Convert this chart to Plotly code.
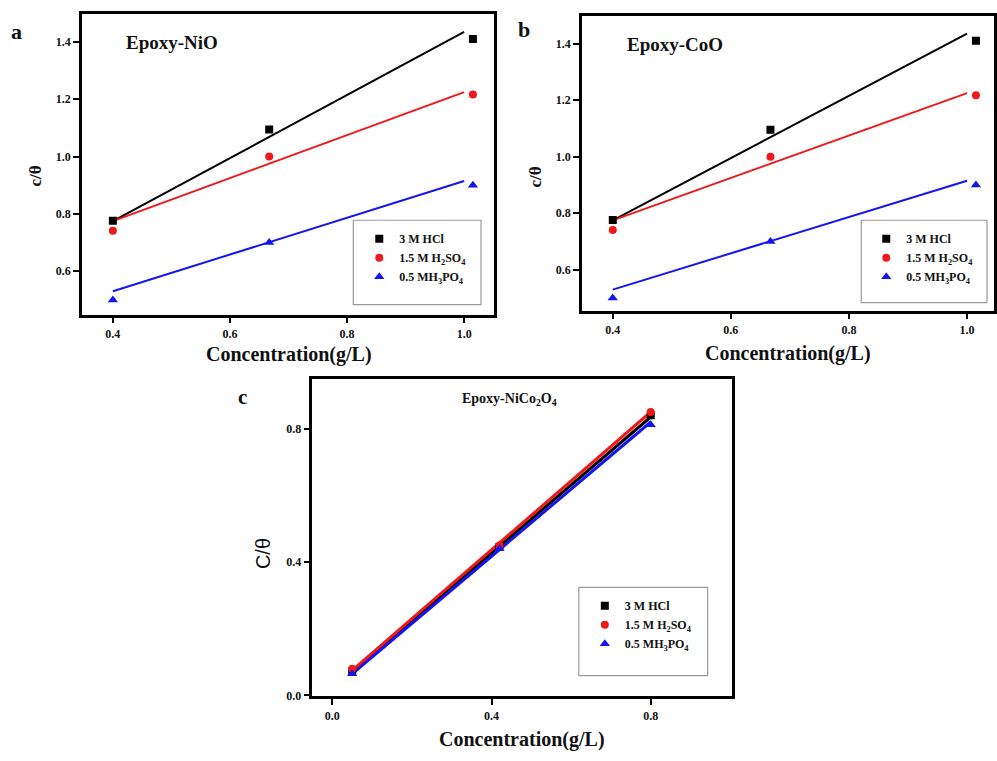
import plotly.graph_objects as go

# ---- data -------------------------------------------------------------
series_names = ["3 M HCl", "1.5 M H<sub>2</sub>SO<sub>4</sub>", "0.5 MH<sub>3</sub>PO<sub>4</sub>"]
series_colors = ["#000000", "#f01818", "#1414f0"]
series_symbols = ["square", "circle", "triangle-up"]

# Epoxy-NiO (panel a) and Epoxy-CoO (panel b)
conc_ab = [0.40, 0.667, 1.015]
hcl_ab = [0.776, 1.095, 1.41]
h2so4_ab = [0.741, 1.0, 1.217]
h3po4_ab = [0.50, 0.70, 0.90]

# fitted lines for panels a and b (end points)
fit_x_ab = [0.40, 1.00]
fit_hcl_ab = [0.775, 1.435]
fit_h2so4_ab = [0.775, 1.225]
fit_h3po4_ab = [0.53, 0.915]

# Epoxy-NiCo2O4 (panel c)
conc_c = [0.05, 0.42, 0.80]
hcl_c = [0.071, 0.445, 0.84]
h2so4_c = [0.08, 0.45, 0.85]
h3po4_c = [0.065, 0.44, 0.812]

fit_x_c = [0.05, 0.80]
fit_hcl_c = [0.07, 0.835]
fit_h2so4_c = [0.075, 0.85]
fit_h3po4_c = [0.065, 0.82]

W, H = 997, 761
SERIF = "Liberation Serif, Times New Roman, serif"


def px(x):
    return x / W


def py(y):
    return 1 - y / H


fig = go.Figure()

panels = [
    # (xaxis, yaxis, legend, x, points, fits, fit_x, line width)
    ("x", "y", "legend", conc_ab, [hcl_ab, h2so4_ab, h3po4_ab],
     [fit_hcl_ab, fit_h2so4_ab, fit_h3po4_ab], fit_x_ab, 2),
    ("x2", "y2", "legend2", conc_ab, [hcl_ab, h2so4_ab, h3po4_ab],
     [fit_hcl_ab, fit_h2so4_ab, fit_h3po4_ab], fit_x_ab, 2),
    ("x3", "y3", "legend3", conc_c, [hcl_c, h2so4_c, h3po4_c],
     [fit_hcl_c, fit_h2so4_c, fit_h3po4_c], fit_x_c, 3),
]

for xa, ya, lg, xs, pts, fits, fx, lw in panels:
    order = [0, 1, 2] if xa != "x3" else [0, 2, 1]
    for i in order:
        fig.add_trace(go.Scatter(
            x=fx, y=fits[i], mode="lines", xaxis=xa, yaxis=ya,
            line=dict(color=series_colors[i], width=lw),
            showlegend=False, hoverinfo="skip"))
    for i in range(3):
        fig.add_trace(go.Scatter(
            x=xs, y=pts[i], mode="markers", xaxis=xa, yaxis=ya,
            name=series_names[i], legend=lg,
            marker=dict(symbol=series_symbols[i], color=series_colors[i],
                        size=8 if i < 2 else 9, line=dict(width=0))))

tickfont = dict(family=SERIF, size=12, color="#111111", weight="bold")
axis_common = dict(showline=True, linecolor="black", linewidth=2.5, mirror=True,
                   ticks="outside", ticklen=6, tickwidth=2, tickcolor="black",
                   showgrid=False, zeroline=False, tickfont=tickfont)

fig.update_layout(
    width=W, height=H, margin=dict(l=0, r=0, t=0, b=0),
    paper_bgcolor="white", plot_bgcolor="white",
    xaxis=dict(domain=[px(82), px(495)], range=[0.347, 1.051], anchor="y",
               tickvals=[0.4, 0.6, 0.8, 1.0], tickformat=".1f", **axis_common),
    yaxis=dict(domain=[py(317), py(14)], range=[0.449, 1.498], anchor="x",
               tickvals=[0.6, 0.8, 1.0, 1.2, 1.4], tickformat=".1f", **axis_common),
    xaxis2=dict(domain=[px(583), px(996)], range=[0.3476, 1.0456], anchor="y2",
                tickvals=[0.4, 0.6, 0.8, 1.0], tickformat=".1f", **axis_common),
    yaxis2=dict(domain=[py(313), py(16)], range=[0.456, 1.498], anchor="x2",
                tickvals=[0.6, 0.8, 1.0, 1.2, 1.4], tickformat=".1f", **axis_common),
    xaxis3=dict(domain=[px(313), px(733)], range=[-0.05, 1.003], anchor="y3",
                tickvals=[0.0, 0.4, 0.8], tickformat=".1f", **axis_common),
    yaxis3=dict(domain=[py(702), py(382)], range=[-0.003, 0.949], anchor="x3",
                tickvals=[0.0, 0.4, 0.8], tickformat=".1f", **axis_common),
)

legend_font = dict(family=SERIF, size=12, color="#111111", weight="bold")
legend_common = dict(bgcolor="rgba(0,0,0,0)", borderwidth=0, font=legend_font,
                     xanchor="left", yanchor="top", tracegroupgap=0)
fig.update_layout(
    legend=dict(x=px(360), y=py(226), **legend_common),
    legend2=dict(x=px(868), y=py(226), **legend_common),
    legend3=dict(x=px(586), y=py(596), **legend_common),
)

# legend frames
for x0, y0, x1, y1 in [(354, 222, 482, 307), (863, 222, 989, 305), (580, 592, 709, 681)]:
    fig.add_shape(type="rect", xref="paper", yref="paper",
                  x0=px(x0), x1=px(x1), y0=py(y1), y1=py(y0),
                  line=dict(color="#9a9a9a", width=1.2), fillcolor="rgba(0,0,0,0)")


def label(text, x, y, size, angle=0, weight="bold", family=SERIF):
    fig.add_annotation(text=text, xref="paper", yref="paper", x=px(x), y=py(y),
                       showarrow=False, textangle=angle, xanchor="center", yanchor="middle",
                       font=dict(family=family, size=size, color="#111111", weight=weight))


# panel letters
label("a", 17, 32, 22)
label("b", 525, 30, 22)
label("c", 243, 400, 21)

# panel titles
label("Epoxy-NiO", 172, 43, 19)
label("Epoxy-CoO", 676, 45, 19)
label("Epoxy-NiCo<sub>2</sub>O<sub>4</sub>", 511, 403, 14)

# axis titles
label("Concentration(g/L)", 290, 357, 20)
label("Concentration(g/L)", 790, 356, 20)
label("Concentration(g/L)", 523, 745, 20)
label("c/θ", 36, 177, 17, angle=-90)
label("c/θ", 537, 178, 17, angle=-90)
label("C/θ", 263, 558, 20, angle=-90, weight="normal", family="Liberation Sans, Arial, sans-serif")

fig.write_html("out.html")
